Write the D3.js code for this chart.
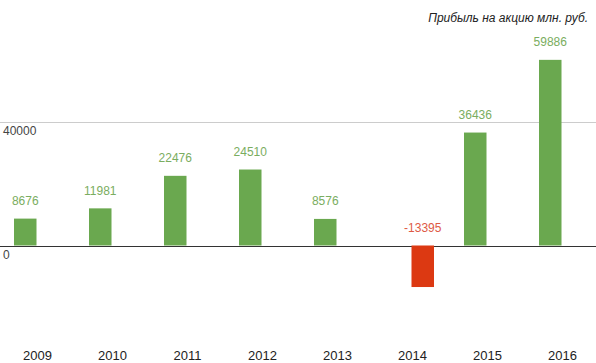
<!DOCTYPE html>
<html>
<head>
<meta charset="utf-8">
<script src="https://cdn.jsdelivr.net/npm/d3@7"></script>
<style>
  html, body { margin: 0; padding: 0; background: #fff; }
  svg { display: block; font-family: Arial, "Liberation Sans", sans-serif; }
</style>
</head>
<body>
<div id="chart"></div>
<script>
const years = ["2009", "2010", "2011", "2012", "2013", "2014", "2015", "2016"];
const profit = [8676, 11981, 22476, 24510, 8576, -13395, 36436, 59886];
const yTicks = [0, 40000];
const chartTitle = "Прибыль на акцию млн. руб.";

const width = 596, height = 363;

const svg = d3.select("#chart")
  .append("svg")
  .attr("width", width)
  .attr("height", height);

// each year has two slots: positive values left, negative right
const xScale = d3.scaleBand()
  .domain(years)
  .range([-1, 599]);

const slot = d3.scaleBand()
  .domain(["pos", "neg"])
  .range([0, xScale.bandwidth()])
  .paddingOuter(2 / 3);

const yScale = d3.scaleLinear()
  .domain([0, 40000])
  .range([245.5, 121.5]);

// gridlines
svg.append("g")
  .selectAll("line")
  .data(yTicks)
  .join("line")
  .attr("x1", 0)
  .attr("x2", width)
  .attr("y1", d => Math.round(yScale(d)) + 0.5)
  .attr("y2", d => Math.round(yScale(d)) + 0.5)
  .attr("stroke", d => d === 0 ? "#333" : "#ccc")
  .attr("stroke-width", 1);

// y tick labels
svg.append("g")
  .selectAll("text")
  .data(yTicks)
  .join("text")
  .attr("x", 3)
  .attr("y", d => yScale(d) + 13)
  .attr("font-size", 12)
  .attr("fill", "#444")
  .text(d => d);

const data = years.map((y, i) => ({ year: y, value: profit[i] }));

// bars
svg.append("g")
  .selectAll("rect")
  .data(data)
  .join("rect")
  .attr("x", d => xScale(d.year) + slot(d.value < 0 ? "neg" : "pos"))
  .attr("width", slot.bandwidth())
  .attr("y", d => yScale(Math.max(0, d.value)))
  .attr("height", d => Math.abs(yScale(d.value) - yScale(0)))
  .attr("fill", d => d.value < 0 ? "#dc3912" : "#6aa84f");

// value labels
svg.append("g")
  .selectAll("text")
  .data(data)
  .join("text")
  .attr("x", d => xScale(d.year) + slot(d.value < 0 ? "neg" : "pos") + slot.bandwidth() / 2)
  .attr("y", d => yScale(Math.max(0, d.value)) - 13.5)
  .attr("text-anchor", "middle")
  .attr("font-size", 12)
  .attr("fill", d => d.value < 0 ? "#de5a45" : "#7aad60")
  .text(d => d.value);

// x axis labels
svg.append("g")
  .selectAll("text")
  .data(years)
  .join("text")
  .attr("x", d => xScale(d) + xScale.bandwidth() / 2 + 1)
  .attr("y", 360)
  .attr("text-anchor", "middle")
  .attr("font-size", 13)
  .attr("fill", "#222")
  .text(d => d);

// title
svg.append("text")
  .attr("x", 588)
  .attr("y", 22)
  .attr("text-anchor", "end")
  .attr("font-size", 12)
  .attr("font-style", "italic")
  .attr("fill", "#222")
  .text(chartTitle);
</script>
</body>
</html>
